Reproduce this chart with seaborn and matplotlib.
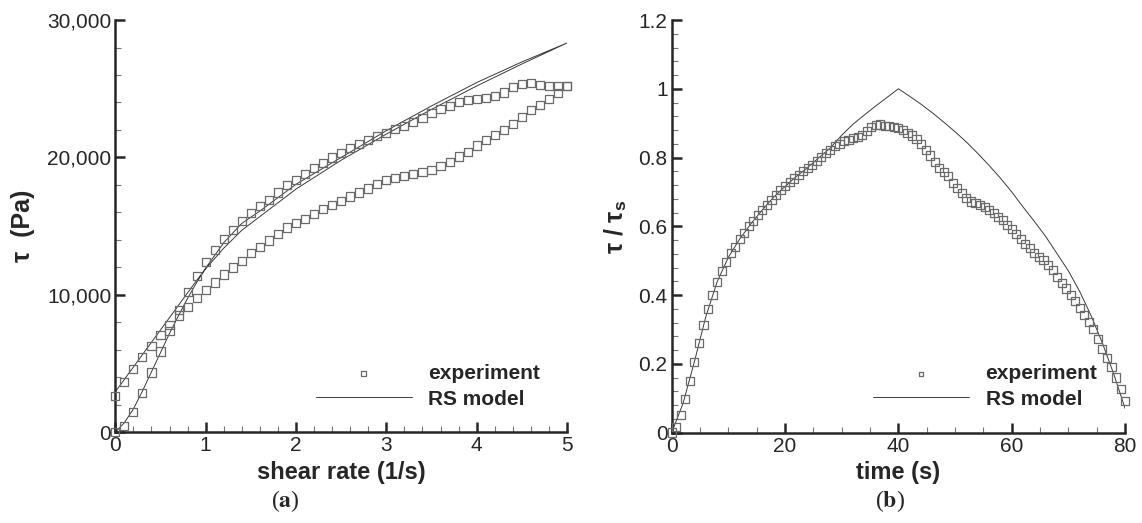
import matplotlib
matplotlib.use("Agg")
import matplotlib.pyplot as plt
import pandas as pd
import seaborn as sns
from matplotlib.ticker import FuncFormatter, MultipleLocator

# ---- panel (a): shear stress vs shear rate (hysteresis loop) ----
shear_rate = [0.0, 0.1, 0.2, 0.3, 0.4, 0.5, 0.6, 0.7, 0.8, 0.9,
              1.0, 1.1, 1.2, 1.3, 1.4, 1.5, 1.6, 1.7, 1.8, 1.9,
              2.0, 2.1, 2.2, 2.3, 2.4, 2.5, 2.6, 2.7, 2.8, 2.9,
              3.0, 3.1, 3.2, 3.3, 3.4, 3.5, 3.6, 3.7, 3.8, 3.9,
              4.0, 4.1, 4.2, 4.3, 4.4, 4.5, 4.6, 4.7, 4.8, 4.9, 5.0]
tau_ramp_up = [0, 460, 1500, 2840, 4350, 5880, 7400, 8910, 10200, 11390,
               12410, 13280, 14060, 14740, 15390, 15950, 16490, 16920, 17450, 18010,
               18380, 18790, 19230, 19590, 20000, 20320, 20680, 20950, 21290, 21530,
               21770, 22070, 22310, 22600, 22890, 23230, 23520, 23760, 24010, 24200,
               24250, 24320, 24490, 24730, 25120, 25370, 25410, 25290, 25220, 25170, 25220]
tau_ramp_down = [2650, 3690, 4590, 5510, 6310, 7090, 7820, 8500, 9150, 9760,
                 10370, 10900, 11480, 11990, 12480, 13040, 13480, 13960, 14400, 14900,
                 15250, 15510, 15890, 16240, 16570, 16860, 17160, 17450, 17740, 18060,
                 18330, 18500, 18620, 18790, 18910, 19100, 19350, 19690, 20070, 20410,
                 20870, 21290, 21650, 22020, 22430, 22940, 23470, 23840, 24270, 24690, 25170]

model_shear = [0.0, 0.1, 0.2, 0.3, 0.4, 0.5, 0.6, 0.7, 0.8, 0.9, 1.0,
               1.2, 1.4, 1.6, 2.0, 2.5, 3.0, 3.5, 4.0, 4.5, 5.0]
model_tau_up = [0, 700, 1700, 3000, 4400, 5800, 7200, 8500, 9750, 10900, 11950,
                13800, 15200, 16100, 18050, 20000, 21950, 23750, 25450, 26950, 28330]
model_tau_down = [2950, 3850, 4750, 5650, 6550, 7450, 8350, 9250, 10150, 11050, 11900,
                  13400, 14700, 15700, 17700, 19800, 21700, 23500, 25200, 26800, 28330]

# ---- panel (b): normalised stress vs time ----
time_s = [0.0, 0.8, 1.6, 2.4, 3.2, 4.0, 4.8, 5.6, 6.4, 7.2,
          8.0, 8.8, 9.6, 10.4, 11.2, 12.0, 12.8, 13.6, 14.4, 15.2,
          16.0, 16.8, 17.6, 18.4, 19.2, 20.0, 20.8, 21.6, 22.4, 23.2,
          24.0, 24.8, 25.6, 26.4, 27.2, 28.0, 28.8, 29.6, 30.4, 31.2,
          32.0, 32.8, 33.6, 34.4, 35.2, 36.0, 36.8, 37.6, 38.4, 39.2,
          40.0, 40.8, 41.6, 42.4, 43.2, 44.0, 44.8, 45.6, 46.4, 47.2,
          48.0, 48.8, 49.6, 50.4, 51.2, 52.0, 52.8, 53.6, 54.4, 55.2,
          56.0, 56.8, 57.6, 58.4, 59.2, 60.0, 60.8, 61.6, 62.4, 63.2,
          64.0, 64.8, 65.6, 66.4, 67.2, 68.0, 68.8, 69.6, 70.4, 71.2,
          72.0, 72.8, 73.6, 74.4, 75.2, 76.0, 76.8, 77.6, 78.4, 79.2, 80.0]
tau_ratio = [0.000, 0.015, 0.052, 0.098, 0.151, 0.206, 0.261, 0.313, 0.359, 0.401,
             0.438, 0.469, 0.495, 0.522, 0.541, 0.563, 0.580, 0.600, 0.616, 0.634,
             0.648, 0.663, 0.677, 0.692, 0.705, 0.716, 0.728, 0.739, 0.750, 0.760,
             0.770, 0.779, 0.789, 0.802, 0.813, 0.823, 0.833, 0.840, 0.847, 0.852,
             0.856, 0.859, 0.866, 0.876, 0.888, 0.895, 0.896, 0.893, 0.891, 0.889,
             0.887, 0.879, 0.872, 0.864, 0.853, 0.839, 0.822, 0.806, 0.787, 0.770,
             0.757, 0.745, 0.726, 0.711, 0.697, 0.682, 0.672, 0.667, 0.662, 0.656,
             0.648, 0.639, 0.628, 0.618, 0.605, 0.592, 0.578, 0.563, 0.549, 0.536,
             0.523, 0.511, 0.502, 0.488, 0.472, 0.453, 0.436, 0.419, 0.401, 0.382,
             0.363, 0.343, 0.322, 0.300, 0.272, 0.243, 0.218, 0.190, 0.160, 0.127, 0.093]

model_time = [0, 2, 4, 6, 8, 10, 12, 14, 16, 18, 20, 22, 24, 26, 28, 30, 32, 34, 36, 38,
              40, 42, 44, 46, 48, 50, 52, 54, 56, 58, 60, 62, 64, 66, 68, 70, 72, 74, 76, 78, 80]
model_ratio = [0.0, 0.085, 0.206, 0.336, 0.438, 0.510, 0.563, 0.608, 0.648, 0.685,
               0.716, 0.745, 0.771, 0.800, 0.828, 0.865, 0.897, 0.924, 0.950, 0.975,
               1.0, 0.978, 0.955, 0.930, 0.903, 0.875, 0.845, 0.812, 0.777, 0.740,
               0.700, 0.656, 0.614, 0.570, 0.520, 0.470, 0.410, 0.340, 0.260, 0.170, 0.070]

sns.set_style("ticks")
plt.rcParams["font.family"] = ["Liberation Sans", "DejaVu Sans"]
plt.rcParams["mathtext.fontset"] = "stix"

MARKER_EDGE = "#6a6a6a"
LINE_COLOR = "#3a3a3a"

exp_a = pd.DataFrame({"x": shear_rate + shear_rate[::-1],
                      "y": tau_ramp_up + tau_ramp_down[::-1]})
mod_a = pd.DataFrame({"x": model_shear + model_shear[::-1],
                      "y": model_tau_up + model_tau_down[::-1]})
exp_b = pd.DataFrame({"x": time_s, "y": tau_ratio})
mod_b = pd.DataFrame({"x": model_time, "y": model_ratio})

fig = plt.figure(figsize=(11.42, 5.23), dpi=100)
ax1 = fig.add_axes([0.101, 0.1734, 0.3955, 0.7883])
ax2 = fig.add_axes([0.5882, 0.1730, 0.3970, 0.7887])


def draw(ax, exp, mod):
    sns.scatterplot(data=exp, x="x", y="y", marker="s", s=34, facecolor="none",
                    edgecolor=MARKER_EDGE, linewidth=0.9, clip_on=False,
                    zorder=3, label="experiment", ax=ax)
    sns.lineplot(data=mod, x="x", y="y", sort=False, estimator=None,
                 color=LINE_COLOR, linewidth=0.7, label="RS model", ax=ax)
    for side in ("top", "right"):
        ax.spines[side].set_visible(False)
    for side in ("left", "bottom"):
        ax.spines[side].set_linewidth(1.8)
    ax.tick_params(which="major", direction="in", length=7.5, width=1.8,
                   labelsize=15, pad=3)
    ax.tick_params(which="minor", direction="in", length=4, width=0.8,
                   color="#777777")
    ax.legend(loc="upper left", bbox_to_anchor=(0.444, 0.165), frameon=False,
              prop={"weight": "bold", "size": 15}, handlelength=4.6,
              handletextpad=0.8, labelspacing=0.3, borderpad=0,
              borderaxespad=0, markerscale=0.6, scatterpoints=1)


draw(ax1, exp_a, mod_a)
ax1.set_xlim(0, 5)
ax1.set_ylim(0, 30000)
ax1.xaxis.set_major_locator(MultipleLocator(1))
ax1.xaxis.set_minor_locator(MultipleLocator(0.2))
ax1.yaxis.set_major_locator(MultipleLocator(10000))
ax1.yaxis.set_minor_locator(MultipleLocator(2000))
ax1.yaxis.set_major_formatter(FuncFormatter(lambda v, p: f"{v:,.0f}"))
ax1.set_xlabel("shear rate (1/s)", fontsize=17, fontweight="bold")
ax1.set_ylabel("τ  (Pa)", fontsize=18, fontweight="bold")
ax1.xaxis.set_label_coords(0.5, -0.07)
ax1.yaxis.set_label_coords(-0.178, 0.5)

draw(ax2, exp_b, mod_b)
ax2.set_xlim(0, 80)
ax2.set_ylim(0, 1.2)
ax2.xaxis.set_major_locator(MultipleLocator(20))
ax2.xaxis.set_minor_locator(MultipleLocator(5))
ax2.yaxis.set_major_locator(MultipleLocator(0.2))
ax2.yaxis.set_minor_locator(MultipleLocator(0.04))
ax2.yaxis.set_major_formatter(FuncFormatter(lambda v, p: f"{v:g}"))
ax2.set_xlabel("time (s)", fontsize=17, fontweight="bold")
ax2.set_ylabel(r"τ / τ$_\mathregular{s}$", fontsize=18, fontweight="bold")
ax2.xaxis.set_label_coords(0.5, -0.07)
ax2.yaxis.set_label_coords(-0.095, 0.5)

fig.text(285 / 1142, 1 - 501 / 523, r"($\mathbf{a}$)", ha="center", va="center",
         fontsize=17, family="Liberation Serif")
fig.text(890 / 1142, 1 - 501 / 523, r"($\mathbf{b}$)", ha="center", va="center",
         fontsize=17, family="Liberation Serif")

fig.savefig("out.png", dpi=100)
